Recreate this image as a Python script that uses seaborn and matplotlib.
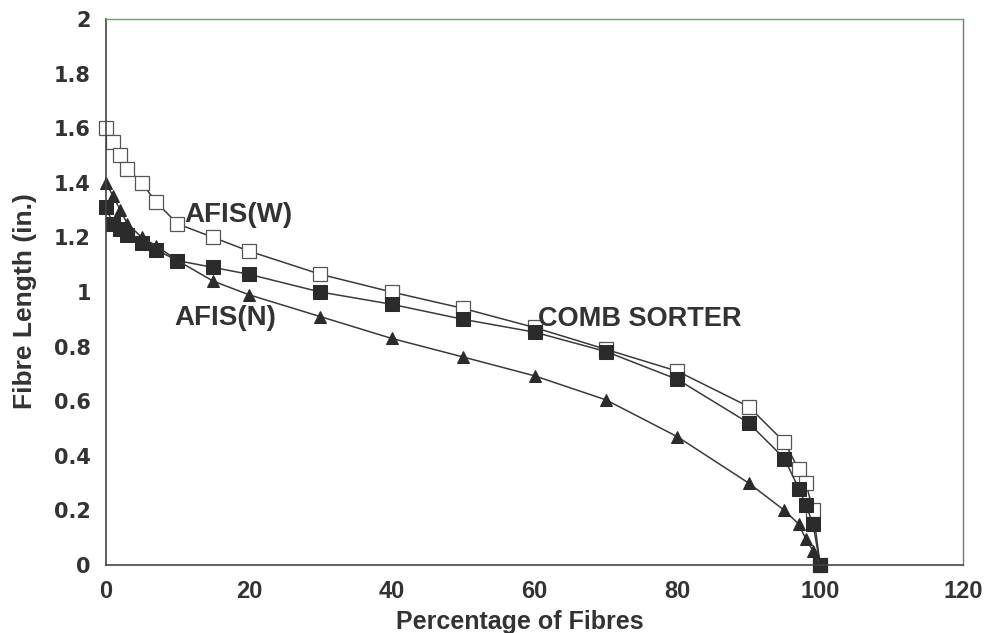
import pandas as pd
import matplotlib
matplotlib.use('Agg')
import matplotlib.pyplot as plt
import seaborn as sns

# Values
pct = [0, 1, 2, 3, 5, 7, 10, 15, 20, 30, 40, 50, 60, 70, 80, 90, 95, 97, 98, 99, 100]
afis_w = [1.60, 1.55, 1.50, 1.45, 1.40, 1.33, 1.25, 1.20, 1.15, 1.065, 1.00, 0.94, 0.87,
          0.79, 0.71, 0.58, 0.45, 0.35, 0.30, 0.20, 0.0]
comb_sorter = [1.31, 1.25, 1.23, 1.21, 1.18, 1.155, 1.115, 1.09, 1.065, 1.00, 0.955, 0.90, 0.853,
               0.782, 0.68, 0.52, 0.39, 0.28, 0.22, 0.15, 0.0]
afis_n = [1.40, 1.35, 1.30, 1.25, 1.20, 1.17, 1.115, 1.04, 0.99, 0.91, 0.83, 0.762, 0.693,
          0.605, 0.47, 0.30, 0.20, 0.15, 0.095, 0.052, 0.0]

df_w = pd.DataFrame({'pct': pct, 'length': afis_w})
df_c = pd.DataFrame({'pct': pct, 'length': comb_sorter})
df_n = pd.DataFrame({'pct': pct, 'length': afis_n})

sns.set_style('white')
plt.rcParams['font.family'] = ['Liberation Sans', 'DejaVu Sans']

fig = plt.figure(figsize=(9.89, 6.33), dpi=100)
ax = fig.add_axes([0.1072, 0.1074, 0.8665, 0.8626])

line_col = '#3a3a3a'
sns.lineplot(x='pct', y='length', data=df_w, ax=ax, color=line_col, lw=1.1,
             marker='s', markersize=10, markerfacecolor='white',
             markeredgecolor='#555555', markeredgewidth=0.9, clip_on=False)
sns.lineplot(x='pct', y='length', data=df_c, ax=ax, color=line_col, lw=1.1,
             marker='s', markersize=9.5, markerfacecolor='#2b2b2b',
             markeredgecolor='#2b2b2b', clip_on=False)
sns.lineplot(x='pct', y='length', data=df_n, ax=ax, color=line_col, lw=1.1,
             marker='^', markersize=8.5, markerfacecolor='#2b2b2b',
             markeredgecolor='#2b2b2b', clip_on=False)

txt = '#333333'
ax.text(11.0, 1.281, 'AFIS(W)', fontsize=20, fontweight='bold', color=txt, va='center')
ax.text(9.6, 0.903, 'AFIS(N)', fontsize=20, fontweight='bold', color=txt, va='center')
ax.text(60.5, 0.901, 'COMB SORTER', fontsize=19.5, fontweight='bold', color=txt, va='center')

ax.set_xlim(0, 120)
ax.set_ylim(0, 2)
ax.set_xticks([0, 20, 40, 60, 80, 100, 120])
ax.set_yticks([0, 0.2, 0.4, 0.6, 0.8, 1, 1.2, 1.4, 1.6, 1.8, 2])
ax.set_yticklabels(['0', '0.2', '0.4', '0.6', '0.8', '1', '1.2', '1.4', '1.6', '1.8', '2'])
ax.tick_params(axis='both', direction='out', width=1, colors='#444444', labelcolor=txt)
ax.tick_params(axis='x', length=7, pad=4, labelsize=17)
ax.tick_params(axis='y', length=8, pad=3, labelsize=15)
for lab in ax.get_xticklabels():
    lab.set_fontweight('bold')
for lab in ax.get_yticklabels():
    lab.set_fontweight('bold')
    lab.set_family('DejaVu Sans')

ax.set_xlabel('Percentage of Fibres', fontsize=18, fontweight='bold', color=txt, labelpad=5)
ax.set_ylabel('Fibre Length (in.)', fontsize=19, fontweight='bold', color=txt, labelpad=12)
ax.xaxis.label.set_x(0.483)
ax.yaxis.label.set_y(0.483)

for side in ['left', 'bottom']:
    ax.spines[side].set_color('#444444')
    ax.spines[side].set_linewidth(1.2)
ax.spines['top'].set_color('#7a9a7a')
ax.spines['top'].set_linewidth(1.0)
ax.spines['right'].set_color('#777777')
ax.spines['right'].set_linewidth(1.0)

fig.savefig('out.png', dpi=100)
